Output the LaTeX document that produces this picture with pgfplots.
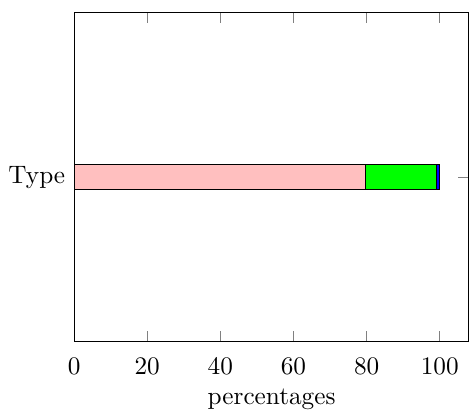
\documentclass[border=0pt]{standalone}
\usepackage{pgfplots}
\pgfplotsset{compat=1.18}
\begin{document}
\begin{tikzpicture}[trim axis right]
\begin{axis}[
  xbar stacked,
  scale only axis,
  width=156.5pt, height=130.5pt,
  xmin=0, xmax=108,
  ymin=-1, ymax=1,
  ytick={0}, yticklabels={Type},
  xtick={0,20,40,60,80,100},
  xticklabel style={yshift=-3pt},
  xlabel style={yshift=1pt},
  bar width=10pt,
  xlabel={percentages},
]
\addplot[fill=pink, draw=black] coordinates {(79.6,0)};
\addplot[fill=green, draw=black] coordinates {(19.5,0)};
\addplot[fill=blue, draw=black] coordinates {(0.9,0)};
\end{axis}
% a little room above the frame
\path (current axis.north) ++(0,5pt);
\end{tikzpicture}
\end{document}
